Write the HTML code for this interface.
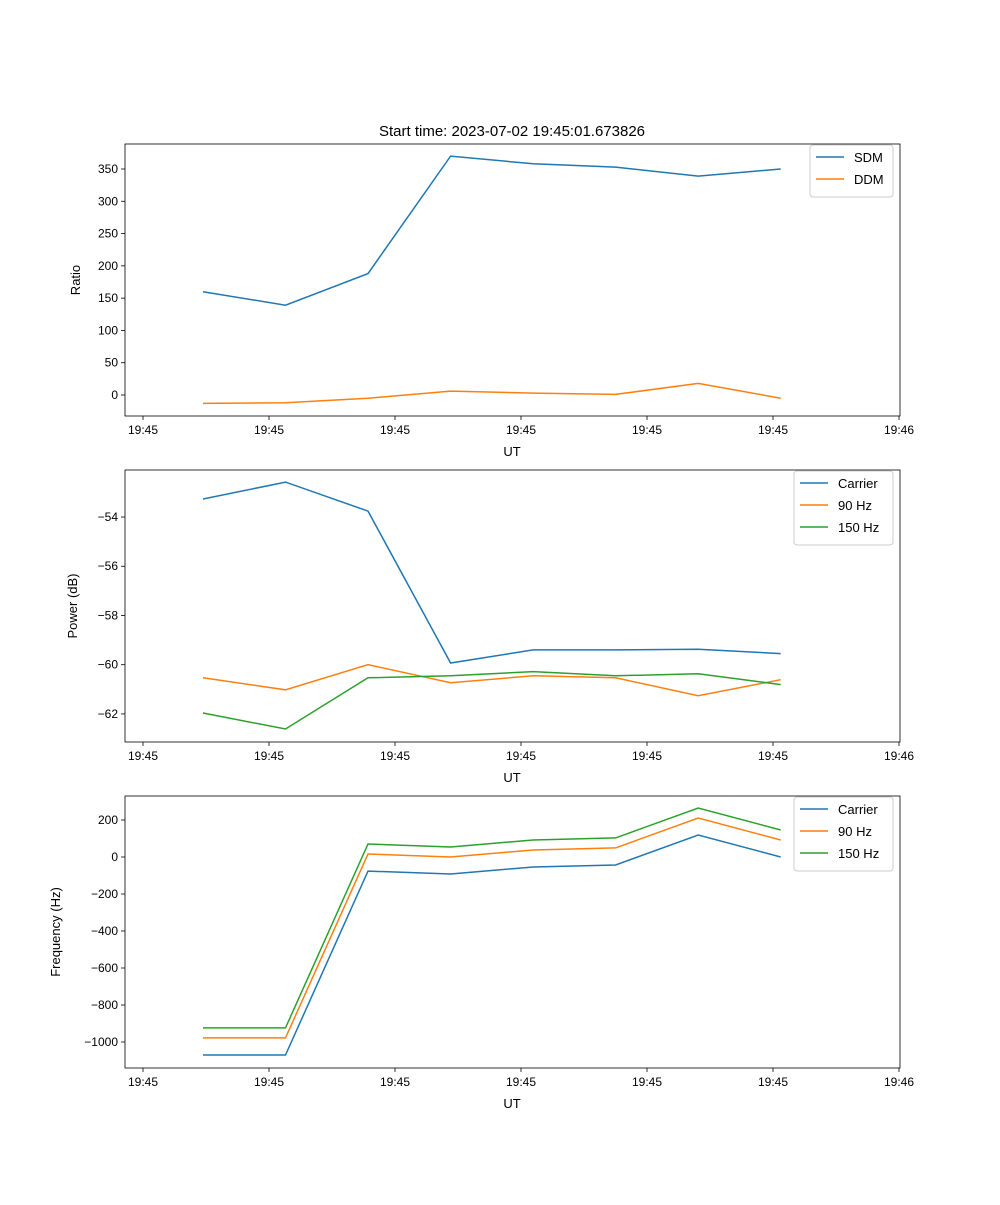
<!DOCTYPE html>
<html><head><meta charset="utf-8"><style>
body{margin:0;background:#fff}
svg{font-family:"Liberation Sans","DejaVu Sans",sans-serif}
</style></head><body>
<svg id="fig" width="1000" height="1200" viewBox="0 0 1000 1200" xmlns="http://www.w3.org/2000/svg">
<text x="512" y="136" font-size="15" text-anchor="middle">Start time: 2023-07-02 19:45:01.673826</text>
</svg>
<script>
const timeValues = [4.76, 11.31, 17.86, 24.41, 30.96, 37.51, 44.06, 50.61];
const xTickValues = [0, 10, 20, 30, 40, 50, 60];
const xTickLabels = ['19:45','19:45','19:45','19:45','19:45','19:45','19:46'];
const sdmValues = [160, 139, 188, 370, 358, 353, 339, 350];
const ddmValues = [-13, -12, -5, 6, 3, 1, 18, -5];
const powerCarrier = [-53.27, -52.58, -53.76, -59.93, -59.4, -59.4, -59.37, -59.55];
const power90 = [-60.53, -61.02, -60.0, -60.73, -60.45, -60.53, -61.26, -60.61];
const power150 = [-61.96, -62.61, -60.53, -60.45, -60.28, -60.45, -60.37, -60.81];
const freqCarrier = [-1070, -1070, -76, -92, -54, -43, 119, 0];
const freq90 = [-978, -978, 16, 0, 38, 49, 211, 92];
const freq150 = [-924, -924, 70, 54, 92, 103, 265, 146];
const ratioTicks = [0, 50, 100, 150, 200, 250, 300, 350];
const powerTicks = [-62, -60, -58, -56, -54];
const freqTicks = [-1000, -800, -600, -400, -200, 0, 200];

const NS='http://www.w3.org/2000/svg';
const svg=document.getElementById('fig');
function mk(tag,attrs,parent){const e=document.createElementNS(NS,tag);for(const k in attrs)e.setAttribute(k,attrs[k]);(parent||svg).appendChild(e);return e;}
const X0=125,X1=900;
const xScale=t=>143+t*12.6;
const C=['#1f77b4','#ff7f0e','#2ca02c'];

function panel(cfg){
  const g=mk('g',{});
  
  
  const y=v=>cfg.top+(cfg.ymax-v)/(cfg.ymax-cfg.ymin)*(cfg.bottom-cfg.top);
  cfg.series.forEach((s,si)=>{
    const pts=s.values.map((v,i)=>xScale(timeValues[i]).toFixed(1)+','+y(v).toFixed(1)).join(' ');
    const pl=mk('polyline',{points:pts,fill:'none',stroke:C[si],'stroke-width':1.5},g);
    
    
  });
  const fr=mk('rect',{x:X0,y:cfg.top,width:X1-X0,height:cfg.bottom-cfg.top,fill:'none',stroke:'#000','stroke-width':0.8},g);
  
  
  xTickValues.forEach((t,i)=>{
    const x=xScale(t);
    mk('line',{x1:x,x2:x,y1:cfg.bottom,y2:cfg.bottom+4,stroke:'#000','stroke-width':0.8},g);
    const tx=mk('text',{x:x,y:cfg.bottom+18,'font-size':12,'text-anchor':'middle'},g);
    tx.textContent=xTickLabels[i];
    
    
  });
  const xl=mk('text',{x:512,y:cfg.bottom+40,'font-size':13,'text-anchor':'middle'},g);
  xl.textContent='UT';
  
  
  cfg.ticks.forEach(v=>{
    const yy=y(v);
    mk('line',{x1:X0-4,x2:X0,y1:yy,y2:yy,stroke:'#000','stroke-width':0.8},g);
    const tx=mk('text',{x:X0-7,y:yy+4,'font-size':12,'text-anchor':'end'},g);
    tx.textContent=(v<0?'\u2212'+Math.abs(v):v);
    
    
  });
  const cy=(cfg.top+cfg.bottom)/2;
  const yl=mk('text',{x:cfg.ylx,y:cy,'font-size':13,'text-anchor':'middle',transform:`rotate(-90 ${cfg.ylx} ${cy})`},g);
  yl.textContent=cfg.ylabel;
  
  
  const lg=mk('g',{},g);
  
  
  const n=cfg.series.length;
  mk('rect',{x:cfg.lx,y:cfg.top+1,width:893-cfg.lx,height:n*22+8,rx:3,fill:'#fff',stroke:'#ccc'},lg);
  cfg.series.forEach((s,si)=>{
    const yy=cfg.top+13+si*22;
    mk('line',{x1:cfg.lx+6,x2:cfg.lx+34,y1:yy,y2:yy,stroke:C[si],'stroke-width':1.5},lg);
    const t=mk('text',{x:cfg.lx+44,y:yy+5,'font-size':13},lg);
    t.textContent=s.label;
    
    
  });
}
panel({name:'ratio-panel',top:144,bottom:416,ymin:-32.5,ymax:388.7,ticks:ratioTicks,ylabel:'Ratio',ylx:80,lx:810,
  series:[{key:'sdm',label:'SDM',values:sdmValues},{key:'ddm',label:'DDM',values:ddmValues}]});
panel({name:'power-panel',top:470,bottom:742,ymin:-63.14,ymax:-52.09,ticks:powerTicks,ylabel:'Power (dB)',ylx:77,lx:794,
  series:[{key:'carrier',label:'Carrier',values:powerCarrier},{key:'hz90',label:'90 Hz',values:power90},{key:'hz150',label:'150 Hz',values:power150}]});
panel({name:'frequency-panel',top:796,bottom:1068,ymin:-1140.5,ymax:329.7,ticks:freqTicks,ylabel:'Frequency (Hz)',ylx:60,lx:794,
  series:[{key:'carrier',label:'Carrier',values:freqCarrier},{key:'hz90',label:'90 Hz',values:freq90},{key:'hz150',label:'150 Hz',values:freq150}]});
</script>
</body></html>
